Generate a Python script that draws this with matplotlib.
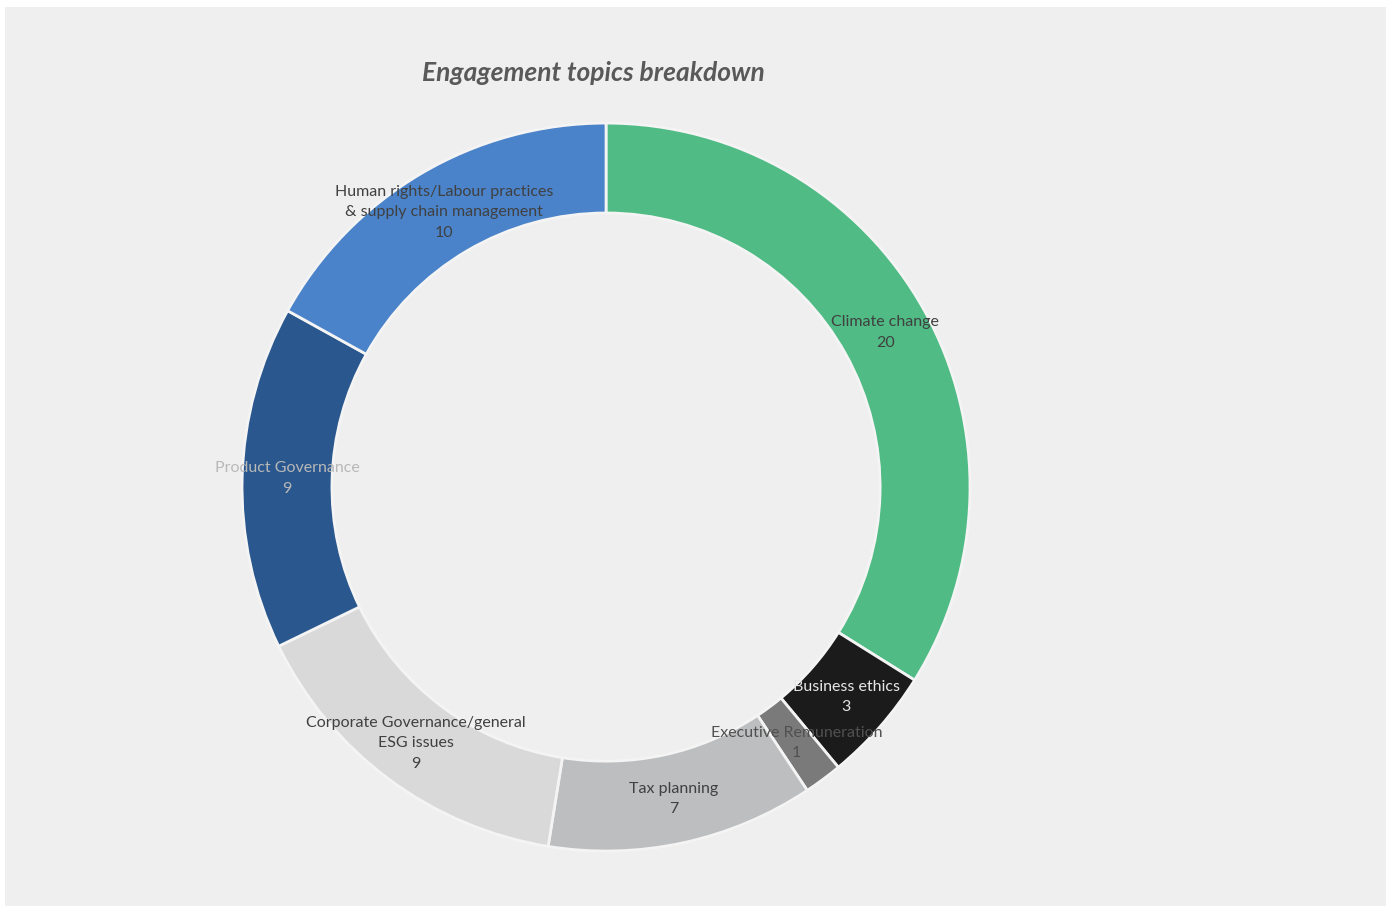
import numpy as np
import matplotlib
matplotlib.use("Agg")
import matplotlib.pyplot as plt
from matplotlib.patches import Rectangle

topics = [
    "Climate change",
    "Business ethics",
    "Executive Remuneration",
    "Tax planning",
    "Corporate Governance/general\nESG issues",
    "Product Governance",
    "Human rights/Labour practices\n& supply chain management",
]
counts = [20, 3, 1, 7, 9, 9, 10]
colors = ["#50bb84", "#1b1b1b", "#7a7a7a", "#bdbebf", "#d9d9d9", "#2a588e", "#4a83c9"]
label_colors = ["#404040", "#e6e6e6", "#505050", "#404040", "#404040", "#b8b8b8", "#404040"]

plt.rcParams["font.family"] = ["Lato", "DejaVu Sans"]

fig = plt.figure(figsize=(13.86, 9.07), dpi=100, facecolor="white")
fig.patches.append(Rectangle((5 / 1386, 1 / 907), 1 - 5 / 1386, 899 / 907,
                             transform=fig.transFigure, facecolor="#efefef",
                             edgecolor="none", zorder=-10))

ax = fig.add_axes([0.1746, 0.0617, 0.5253, 0.8026])
ax.set_facecolor("none")

inner = 0.753
wedges, _ = ax.pie(counts, colors=colors, startangle=90, counterclock=False,
                   radius=1.0,
                   wedgeprops=dict(width=1 - inner, edgecolor="#f4f4f4", linewidth=2))

r_lab = (1 + inner) / 2
for w, name, val, tc in zip(wedges, topics, counts, label_colors):
    mid = np.deg2rad((w.theta1 + w.theta2) / 2)
    ax.text(r_lab * np.cos(mid), r_lab * np.sin(mid), f"{name}\n{val}",
            ha="center", va="center", fontsize=11.5, color=tc,
            linespacing=1.6)

ax.set_xlim(-1, 1)
ax.set_ylim(-1, 1)
ax.set_aspect("equal")
ax.axis("off")

fig.text(593 / 1386, 1 - 73 / 907, "Engagement topics breakdown", ha="center",
         va="center", fontsize=19, fontweight="bold", fontstyle="italic",
         color="#595959")

fig.savefig("out.png", dpi=100, facecolor="white")
